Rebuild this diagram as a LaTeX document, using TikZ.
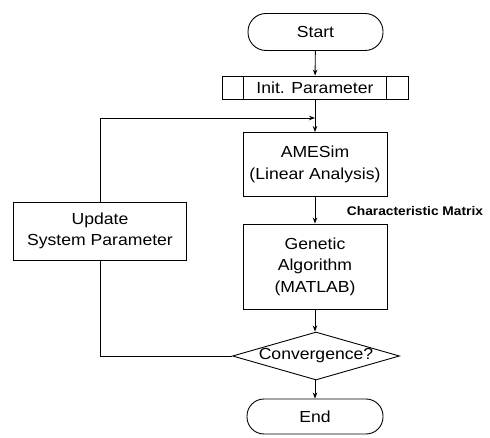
\documentclass[tikz,border=0pt]{standalone}
\usepackage{fontspec}
\setmainfont{Liberation Sans}[FakeStretch=1.1]
\usetikzlibrary{shapes.geometric,arrows.meta}
\begin{document}
\begin{tikzpicture}[x=1pt,y=-1pt,
  every node/.style={font=\fontsize{16}{21.5}\selectfont, align=center, inner sep=0pt},
  term/.style={draw, rounded corners=18pt, minimum width=135pt, minimum height=37pt},
  proc/.style={draw, minimum width=144pt},
  dec/.style={draw, shape=diamond, minimum width=167pt, minimum height=48pt, aspect=3.48},
  line/.style={line width=0.9pt},
  arr/.style={line, -{Stealth[length=6pt,width=4.5pt]}}]
\useasboundingbox (0,0) rectangle (490,438);
\begin{scope}[line width=0.9pt]
\node[term] (start) at (315.5,32) {Start};
\node[draw, minimum width=186pt, minimum height=23pt] (init) at (315,87.5) {Init. Parameter};
\draw[line] ([xshift=22pt]init.north west) -- ([xshift=22pt]init.south west);
\draw[line] ([xshift=-22pt]init.north east) -- ([xshift=-22pt]init.south east);
\node[proc, minimum height=64pt] (ames) at (315,164.5) {AMESim\\(Linear Analysis)};
\node[proc, minimum height=85pt] (ga) at (315,266.5) {Genetic\\Algorithm\\(MATLAB)};
\node[dec] (conv) at (316,356) {Convergence?};
\node[draw, rounded corners=17pt, minimum width=136pt, minimum height=35pt] (end) at (315,416.5) {End};
\node[draw, minimum width=173pt, minimum height=58pt] (upd) at (100,231) {Update\\System Parameter};
\node[font=\bfseries\fontsize{12.5}{14}\selectfont] (cm) at (415,211) {Characteristic Matrix};
\coordinate (join) at (315,118);
\end{scope}
\draw[arr] (start) -- (init);
\draw[arr] (init) -- (ames);
\draw[arr] (ames) -- (ga);
\draw[arr] (ga.south) -- (ga.south |- conv.north);
\draw[arr] (conv.south -| end.north) -- (end.north);
\draw[line] (conv.west) -| (upd.south);
\draw[arr] (upd.north) |- (join);
\end{tikzpicture}
\end{document}
